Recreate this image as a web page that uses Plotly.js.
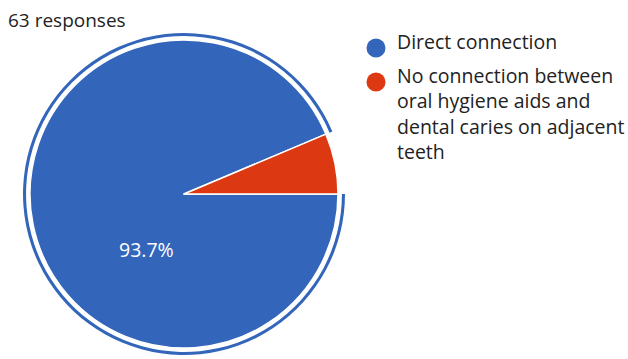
<!DOCTYPE html>
<html><head><meta charset="utf-8">
<script src="https://cdn.plot.ly/plotly-3.0.1.min.js"></script>
<style>html,body{margin:0;padding:0;background:#fff}#chart{width:628px;height:359px}</style>
</head><body><div id="chart"></div>
<script>
const categories = ["Direct connection", "No connection between<br>oral hygiene aids and<br>dental caries on adjacent<br>teeth"];
const counts = [59, 4];
const colors = ["#3366bb", "#dc3912"];
const totalLabel = "63 responses";

const total = counts.reduce((a, b) => a + b, 0);
const fontFam = "'Open Sans', sans-serif";
const W = 628, H = 359;
function dom(cx, cy, r) {
  return { x: [(cx - r) / W, (cx + r) / W], y: [1 - (cy + r) / H, 1 - (cy - r) / H] };
}
const data = [
  {
    type: "pie", values: counts, labels: categories, sort: false,
    direction: "clockwise", rotation: 90,
    domain: dom(184, 194, 161), hole: 0.981,
    marker: { colors: [colors[0], "rgba(0,0,0,0)"], line: { width: 0 } },
    textinfo: "none", showlegend: false, hoverinfo: "skip"
  },
  {
    type: "pie", values: counts, labels: categories, sort: false,
    direction: "clockwise", rotation: 90,
    domain: dom(184, 194, 154),
    marker: { colors: colors, line: { color: "#ffffff", width: 1.5 } },
    textinfo: "none", showlegend: false
  }
];
const bigPct = (100 * counts[0] / total).toFixed(1) + "%";
const shapes = [];
const annotations = [
  { xref: "paper", yref: "paper", x: 6 / W, y: 1 - 20 / H, xanchor: "left", yanchor: "middle",
    text: totalLabel, showarrow: false, font: { family: fontFam, size: 19, color: "#222" } },
  { xref: "paper", yref: "paper", x: 146 / W, y: 1 - 249 / H, xanchor: "center", yanchor: "middle",
    text: bigPct, showarrow: false, font: { family: fontFam, size: 19.5, color: "#ffffff" } }
];
const legCy = [48, 82];
categories.forEach((c, i) => {
  const cy = legCy[i];
  shapes.push({ type: "circle", xref: "paper", yref: "paper",
    x0: (376 - 9.5) / W, x1: (376 + 9.5) / W, y0: 1 - (cy + 9.5) / H, y1: 1 - (cy - 9.5) / H,
    fillcolor: colors[i], line: { width: 0 } });
  annotations.push({ xref: "paper", yref: "paper", x: 395 / W, y: 1 - (cy - 22) / H,
    xanchor: "left", yanchor: "top", align: "left", showarrow: false,
    text: c, font: { family: fontFam, size: 19.5, color: "#222" } });
});
const layout = {
  width: W, height: H, margin: { l: 0, r: 0, t: 0, b: 0 },
  paper_bgcolor: "#fff", plot_bgcolor: "#fff",
  font: { family: fontFam, color: "#222", size: 16 },
  showlegend: false, shapes: shapes, annotations: annotations
};
Plotly.newPlot("chart", data, layout, { displayModeBar: false });
</script></body></html>
